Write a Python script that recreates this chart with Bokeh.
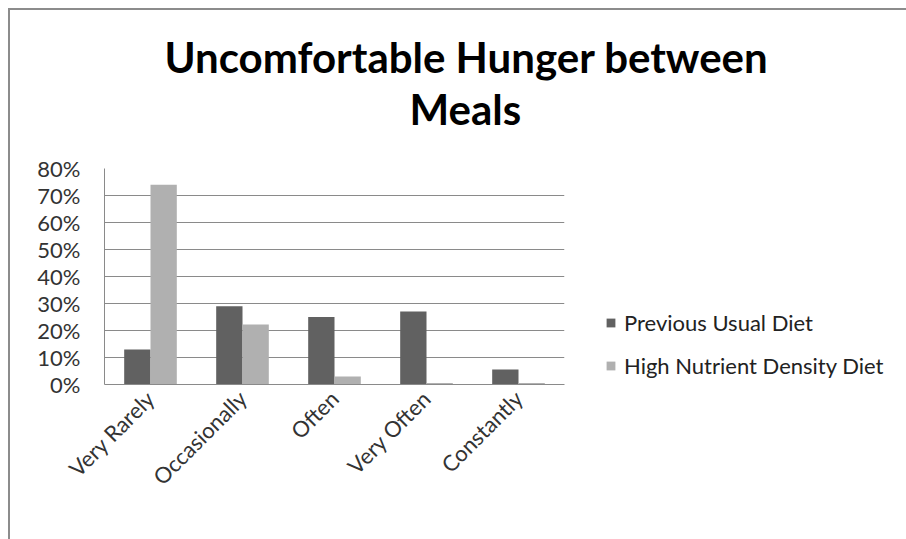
import math
from bokeh.plotting import figure
from bokeh.models import (FactorRange, Range1d, NumeralTickFormatter, FixedTicker,
                          Title, Legend, LegendItem, ColumnDataSource)
from bokeh.transform import dodge
from bokeh.embed import file_html
from bokeh.resources import INLINE

categories = ["Very Rarely", "Occasionally", "Often", "Very Often", "Constantly"]
previous_usual = [0.13, 0.29, 0.25, 0.27, 0.056]
high_nutrient = [0.74, 0.222, 0.03, 0.006, 0.006]
y_ticks = [0.0, 0.1, 0.2, 0.3, 0.4, 0.5, 0.6, 0.7, 0.8]
series_names = ["Previous Usual Diet", "High Nutrient Density Diet"]
title_lines = ["Uncomfortable Hunger between", "Meals"]

FONT = "Lato"
DARK = "#616161"
LIGHT = "#b0b0b0"
GRID = "#8a8a8a"

src = ColumnDataSource(dict(cat=categories, prev=previous_usual, high=high_nutrient))

p = figure(frame_width=460, frame_height=216, x_range=FactorRange(*categories), y_range=Range1d(0, 0.8),
           output_backend="svg", toolbar_location=None,
           min_border_left=94, min_border_right=0, min_border_top=158, min_border_bottom=155)
p.styles = {"border-left": "2px solid #8c8c8c", "border-top": "2px solid #8c8c8c",
            "margin-left": "8px", "margin-top": "8px"}
p.outline_line_color = None
p.background_fill_color = "white"
p.border_fill_color = "white"

r1 = p.vbar(x=dodge("cat", -0.143, range=p.x_range), top="prev", width=0.286, source=src,
            fill_color=DARK, line_color=None)
r2 = p.vbar(x=dodge("cat", 0.143, range=p.x_range), top="high", width=0.286, source=src,
            fill_color=LIGHT, line_color=None)

p.xgrid.grid_line_color = None
p.ygrid.grid_line_color = GRID
p.ygrid.grid_line_width = 1

p.yaxis.ticker = FixedTicker(ticks=y_ticks)
p.yaxis.formatter = NumeralTickFormatter(format="0%")
p.yaxis.major_tick_out = 0
p.yaxis.major_tick_in = 0
p.yaxis.minor_tick_line_color = None
p.yaxis.axis_line_color = GRID
p.yaxis.major_label_standoff = 24
p.yaxis.major_label_text_font = FONT
p.yaxis.major_label_text_font_size = "22px"
p.yaxis.major_label_text_color = "#333333"

p.xaxis.major_tick_line_color = None
p.xaxis.axis_line_color = GRID
p.xaxis.major_label_orientation = math.pi / 4
p.xaxis.major_label_text_font = FONT
p.xaxis.major_label_text_font_size = "22px"
p.xaxis.major_label_text_color = "#333333"
p.xaxis.major_label_standoff = 4

# Above-panel stack (first added sits closest to the plot): blank spacer, line 2, line 1
p.add_layout(Title(text=".", text_font_size="1px", text_color="white", standoff=32), "above")
p.add_layout(Title(text=title_lines[1], align="left", text_font=FONT, text_font_style="bold",
                   text_font_size="42px", text_color="black", standoff=0, offset=305), "above")
p.add_layout(Title(text=title_lines[0], align="left", text_font=FONT, text_font_style="bold",
                   text_font_size="42px", text_color="black", standoff=-1, offset=60), "above")

legend = Legend(items=[LegendItem(label=series_names[0], renderers=[r1]),
                       LegendItem(label=series_names[1], renderers=[r2])],
                location=(41, 5), orientation="vertical")
legend.border_line_color = None
legend.background_fill_alpha = 0
legend.padding = 0
legend.margin = 0
legend.glyph_width = 11
legend.glyph_height = 11
legend.label_height = 22
legend.label_standoff = 8
legend.spacing = 16
legend.label_text_font = FONT
legend.label_text_font_size = "22px"
legend.label_text_color = "#222222"
p.add_layout(legend, "right")

open("out.html", "w").write(file_html(p, INLINE))
